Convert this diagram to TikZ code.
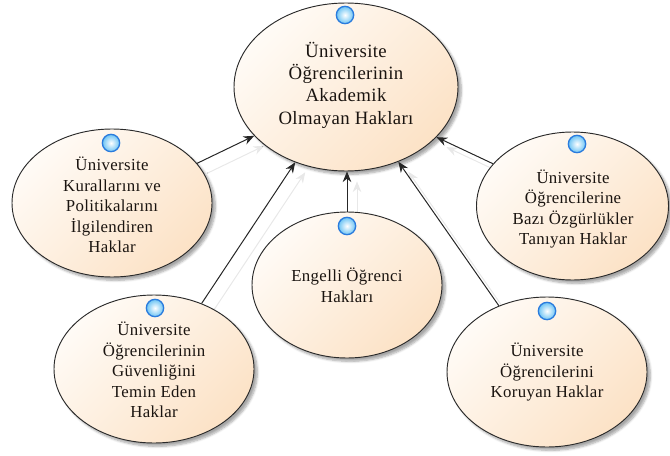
\documentclass[tikz,border=0pt]{standalone}
\usepackage{fontspec}
\newfontfamily\dfont[LetterSpace=2]{Liberation Serif}
\usetikzlibrary{shapes.geometric,arrows.meta,shadows.blur,calc}
\definecolor{peachA}{HTML}{FFFBF6}
\definecolor{peachB}{HTML}{FCE2C6}
\definecolor{edgec}{HTML}{2A2A2A}
\definecolor{dotEdge}{HTML}{2A7BDD}
\definecolor{dotIn}{HTML}{6CC4F4}
\definecolor{txtc}{HTML}{1A1410}
\pgfdeclarelayer{bg}
\pgfsetlayers{bg,main}
\tikzset{
  ell/.style={ellipse, draw=edgec, line width=0.7pt, inner sep=0pt,
    top color=peachA, bottom color=peachB, shading angle=45,
    blur shadow={shadow xshift=2.5pt, shadow yshift=-2.5pt, shadow blur steps=6, shadow opacity=35}},
  subtxt/.style={align=center, inner sep=0pt, text=txtc, font=\dfont\fontsize{12.6pt}{15.45pt}\selectfont},
  maintxt/.style={align=center, inner sep=0pt, text=txtc, font=\dfont\fontsize{14.1pt}{16.65pt}\selectfont},
  dot/.style={circle, minimum size=13pt, inner sep=0pt, draw=dotEdge, line width=1pt,
    inner color=white, outer color=dotIn},
  conn/.style={draw=black!85, line width=0.75pt, -{Stealth[length=8pt,width=6.5pt]}},
  sconn/.style={draw=black!9, line width=0.75pt, -{Stealth[length=8pt,width=6.5pt]},
    transform canvas={shift={(7.5pt,-7.5pt)}}}
}
\begin{document}
\begin{tikzpicture}[x=0.75pt, y=-0.75pt]
\useasboundingbox (0,0) rectangle (670,456);
% ellipses
\node[ell, minimum width=168pt, minimum height=126pt] (main) at (346,87) {};
\node[ell, minimum width=150pt, minimum height=111pt] (kural) at (112,203) {};
\node[ell, minimum width=144pt, minimum height=111pt] (ozgur) at (572.5,206) {};
\node[ell, minimum width=142.5pt, minimum height=109.5pt] (engel) at (347,285) {};
\node[ell, minimum width=150pt, minimum height=111pt] (guven) at (154,369) {};
\node[ell, minimum width=150pt, minimum height=112.5pt] (koruy) at (547,372) {};
% connector shadows
\begin{pgfonlayer}{bg}
\draw[sconn] (kural.25.7) -- (main.208);
\draw[sconn] (guven.54.4) -- (main.236);
\draw[sconn] (engel.north) -- (engel.north |- main.south);
\draw[sconn] (koruy.126.2) -- (main.305);
\draw[sconn] (ozgur.152.1) -- (main.331.5);
\end{pgfonlayer}
% connectors
\draw[conn] (kural.25.7) -- (main.208);
\draw[conn] (guven.54.4) -- (main.236);
\draw[conn] (engel.north) -- (engel.north |- main.south);
\draw[conn] (koruy.126.2) -- (main.305);
\draw[conn] (ozgur.152.1) -- (main.331.5);
% dots
\node[dot] (mainD) at (345,15) {};
\node[dot] (kuralD) at (111,143) {};
\node[dot] (engelD) at (347,226) {};
\node[dot] (guvenD) at (155,308) {};
\node[dot] (koruyD) at (547,311) {};
\node[dot] (ozgurD) at (577,144) {};
% texts
\node[maintxt] (mainT) at (346,85.3) {Üniversite\\Öğrencilerinin\\Akademik\\Olmayan Hakları};
\node[subtxt] (kuralT) at (112,205) {Üniversite\\Kurallarını ve\\Politikalarını\\İlgilendiren\\Haklar};
\node[subtxt] (ozgurT) at (573,209) {Üniversite\\Öğrencilerine\\Bazı Özgürlükler\\Tanıyan Haklar};
\node[subtxt] (engelT) at (347,285) {Engelli Öğrenci\\Hakları};
\node[subtxt] (guvenT) at (154,370) {Üniversite\\Öğrencilerinin\\Güvenliğini\\Temin Eden\\Haklar};
\node[subtxt] (koruyT) at (547,372.3) {Üniversite\\Öğrencilerini\\Koruyan Haklar};
\end{tikzpicture}
\end{document}
